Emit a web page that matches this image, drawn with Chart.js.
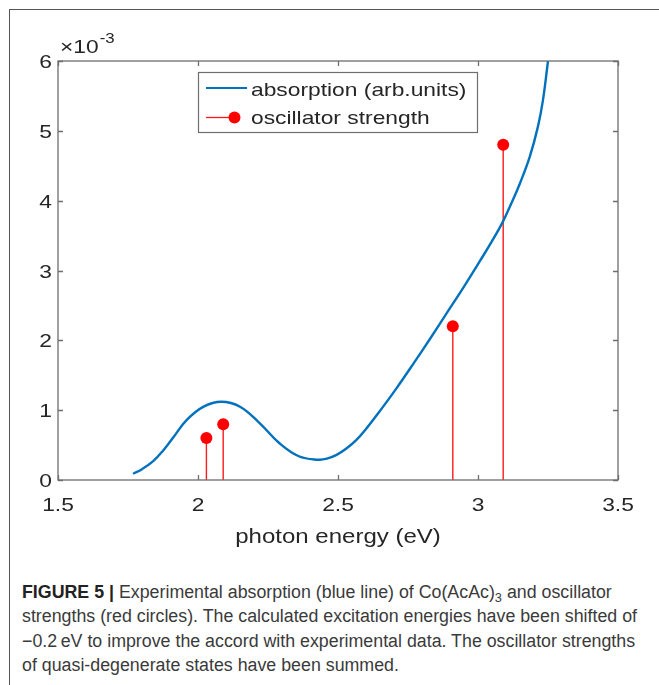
<!DOCTYPE html>
<html>
<head>
<meta charset="utf-8">
<script src="https://cdn.jsdelivr.net/npm/chart.js@4.4.1/dist/chart.umd.min.js"></script>
<style>
  html, body { margin: 0; padding: 0; background: #fff; }
  body { width: 659px; height: 685px; position: relative; overflow: hidden; }
  #frame {
    position: absolute; left: 9px; top: 9px; width: 660px; height: 690px;
    border-top: 1.5px solid #555; border-left: 1.5px solid #555;
  }
  #wrap { position: absolute; left: 0; top: 0; width: 659px; height: 560px; }
  #caption {
    position: absolute; left: 22px; top: 580px;
    font-family: "Liberation Sans", Arial, sans-serif;
    font-size: 18px; line-height: 24.4px; color: #3a3a3a; white-space: nowrap;
    transform-origin: 0 0;
  }
  #caption b { color: #222; }
  #caption sub { font-size: 13px; line-height: 0; vertical-align: -4px; }
</style>
</head>
<body>
<div id="frame"></div>
<div id="wrap"><canvas id="chart" width="659" height="560"></canvas></div>
<div id="caption">
  <b>FIGURE 5 |</b> Experimental absorption (blue line) of Co(AcAc)<sub>3</sub> and oscillator<br>
  <span id="capLine2">strengths (red circles). The calculated excitation energies have been shifted of</span><br>
  −0.2&thinsp;eV to improve the accord with experimental data. The oscillator strengths<br>
  of quasi-degenerate states have been summed.
</div>
<script>
// measured absorption spectrum (y in units of 1e-3)
const absEnergy = [1.768, 1.80, 1.84, 1.875, 1.91, 1.96, 2.02, 2.083, 2.15, 2.22, 2.29,
  2.36, 2.43, 2.46, 2.495, 2.53, 2.565, 2.60, 2.65, 2.71, 2.77, 2.83, 2.89, 2.95,
  3.006, 3.05, 3.089, 3.12, 3.15, 3.185, 3.214, 3.232, 3.25];
const absValue = [0.09, 0.155, 0.27, 0.42, 0.60, 0.86, 1.05, 1.12, 1.05, 0.815, 0.53,
  0.34, 0.29, 0.305, 0.36, 0.45, 0.57, 0.73, 0.99, 1.32, 1.67, 2.03, 2.40, 2.77,
  3.13, 3.42, 3.70, 3.97, 4.25, 4.63, 5.06, 5.44, 6.0];

// calculated transitions (shifted by -0.2 eV)
const oscEnergy = [2.03, 2.09, 2.91, 3.09];
const oscStrength = [0.6, 0.8, 2.2, 4.8];

const xTicks = [1.5, 2, 2.5, 3, 3.5];
const yTicks = [0, 1, 2, 3, 4, 5, 6];

const legendLabels = ["absorption (arb.units)", "oscillator strength"];
const xTitle = "photon energy (eV)";

const BLUE = "#0072BD";
const RED = "#ff1a1a";
const TXT = "#262626";
const AXIS = "#6e6e6e";
const SX = 1.2; // text in this figure is a bit wide

function wideText(ctx, str, x, y, align, size) {
  ctx.save();
  ctx.font = size + "px 'Liberation Sans', Arial, sans-serif";
  const w = ctx.measureText(str).width * SX;
  let x0 = x;
  if (align === "center") x0 = x - w / 2;
  else if (align === "right") x0 = x - w;
  ctx.translate(x0, y);
  ctx.scale(SX, 1);
  ctx.textAlign = "left";
  ctx.fillText(str, 0, 0);
  ctx.restore();
  return w;
}

const axesBox = {
  id: "axesBox",
  afterDraw(chart) {
    const { ctx, chartArea: a, scales: { x, y } } = chart;
    ctx.save();
    ctx.strokeStyle = AXIS;
    ctx.lineWidth = 1.3;
    ctx.strokeRect(a.left, a.top, a.right - a.left, a.bottom - a.top);

    // inward ticks on all four sides
    ctx.beginPath();
    xTicks.forEach(v => {
      const px = Math.round(x.getPixelForValue(v)) + 0.5;
      ctx.moveTo(px, a.bottom); ctx.lineTo(px, a.bottom - 5);
      ctx.moveTo(px, a.top); ctx.lineTo(px, a.top + 5);
    });
    yTicks.forEach(v => {
      const py = Math.round(y.getPixelForValue(v)) + 0.5;
      ctx.moveTo(a.left, py); ctx.lineTo(a.left + 5, py);
      ctx.moveTo(a.right, py); ctx.lineTo(a.right - 5, py);
    });
    ctx.stroke();

    // tick labels
    ctx.fillStyle = TXT;
    ctx.textBaseline = "alphabetic";
    xTicks.forEach(v => wideText(ctx, String(v), x.getPixelForValue(v), a.bottom + 31, "center", 19));
    yTicks.forEach(v => wideText(ctx, String(v), a.left - 6, y.getPixelForValue(v) + 7, "right", 19));

    // exponent
    const w = wideText(ctx, "\u00d710", 60, 53, "left", 19);
    wideText(ctx, "-3", 60 + w + 1, 43, "left", 14);

    // axis title
    wideText(ctx, xTitle, (a.left + a.right) / 2, a.bottom + 63, "center", 20);

    // legend
    const lx = 198.5, ly = 72.5, lw = 279, lh = 60;
    ctx.fillStyle = "#fff";
    ctx.fillRect(lx, ly, lw, lh);
    ctx.strokeStyle = AXIS;
    ctx.lineWidth = 1.2;
    ctx.strokeRect(lx, ly, lw, lh);

    ctx.lineWidth = 2.2;
    ctx.strokeStyle = BLUE;
    ctx.beginPath(); ctx.moveTo(206, 88); ctx.lineTo(247, 88); ctx.stroke();
    ctx.lineWidth = 1.3;
    ctx.strokeStyle = RED;
    ctx.beginPath(); ctx.moveTo(206, 117.5); ctx.lineTo(234, 117.5); ctx.stroke();
    ctx.fillStyle = "red";
    ctx.beginPath(); ctx.arc(234.5, 117.5, 6, 0, Math.PI * 2); ctx.fill();

    ctx.fillStyle = TXT;
    wideText(ctx, legendLabels[0], 251, 96, "left", 19);
    wideText(ctx, legendLabels[1], 251, 124, "left", 19);
    ctx.restore();
  }
};

const datasets = [{
  label: legendLabels[0],
  data: absEnergy.map((e, i) => ({ x: e, y: absValue[i] })),
  showLine: true,
  borderColor: BLUE,
  borderWidth: 2.4,
  pointRadius: 0,
  tension: 0.4,
  order: 0
}];

oscEnergy.forEach((e, i) => {
  datasets.push({
    label: legendLabels[1],
    data: [{ x: e, y: 0 }, { x: e, y: oscStrength[i] }],
    showLine: true,
    borderColor: RED,
    borderWidth: 1.4,
    pointRadius: [0, 6],
    pointHoverRadius: 0,
    pointBackgroundColor: "red",
    pointBorderWidth: 0,
    order: 1
  });
});

new Chart(document.getElementById("chart"), {
  type: "scatter",
  data: { datasets },
  options: {
    responsive: false,
    animation: false,
    layout: { padding: { left: 0, right: 41, top: 61, bottom: 0 } },
    plugins: { legend: { display: false }, tooltip: { enabled: false } },
    scales: {
      x: {
        type: "linear", min: 1.5, max: 3.5,
        ticks: { display: false, stepSize: 0.5 },
        grid: { display: false },
        border: { display: false },
        afterFit(s) { s.height = 80; }
      },
      y: {
        type: "linear", min: 0, max: 6,
        ticks: { display: false, stepSize: 1 },
        grid: { display: false },
        border: { display: false },
        afterFit(s) { s.width = 58; }
      }
    }
  },
  plugins: [axesBox]
});

// squeeze the caption so its widest line spans the figure width
const cap = document.getElementById("caption");
const lineW = document.getElementById("capLine2").getBoundingClientRect().width;
cap.style.transform = "scaleX(" + (615 / lineW).toFixed(4) + ")";
</script>
</body>
</html>
